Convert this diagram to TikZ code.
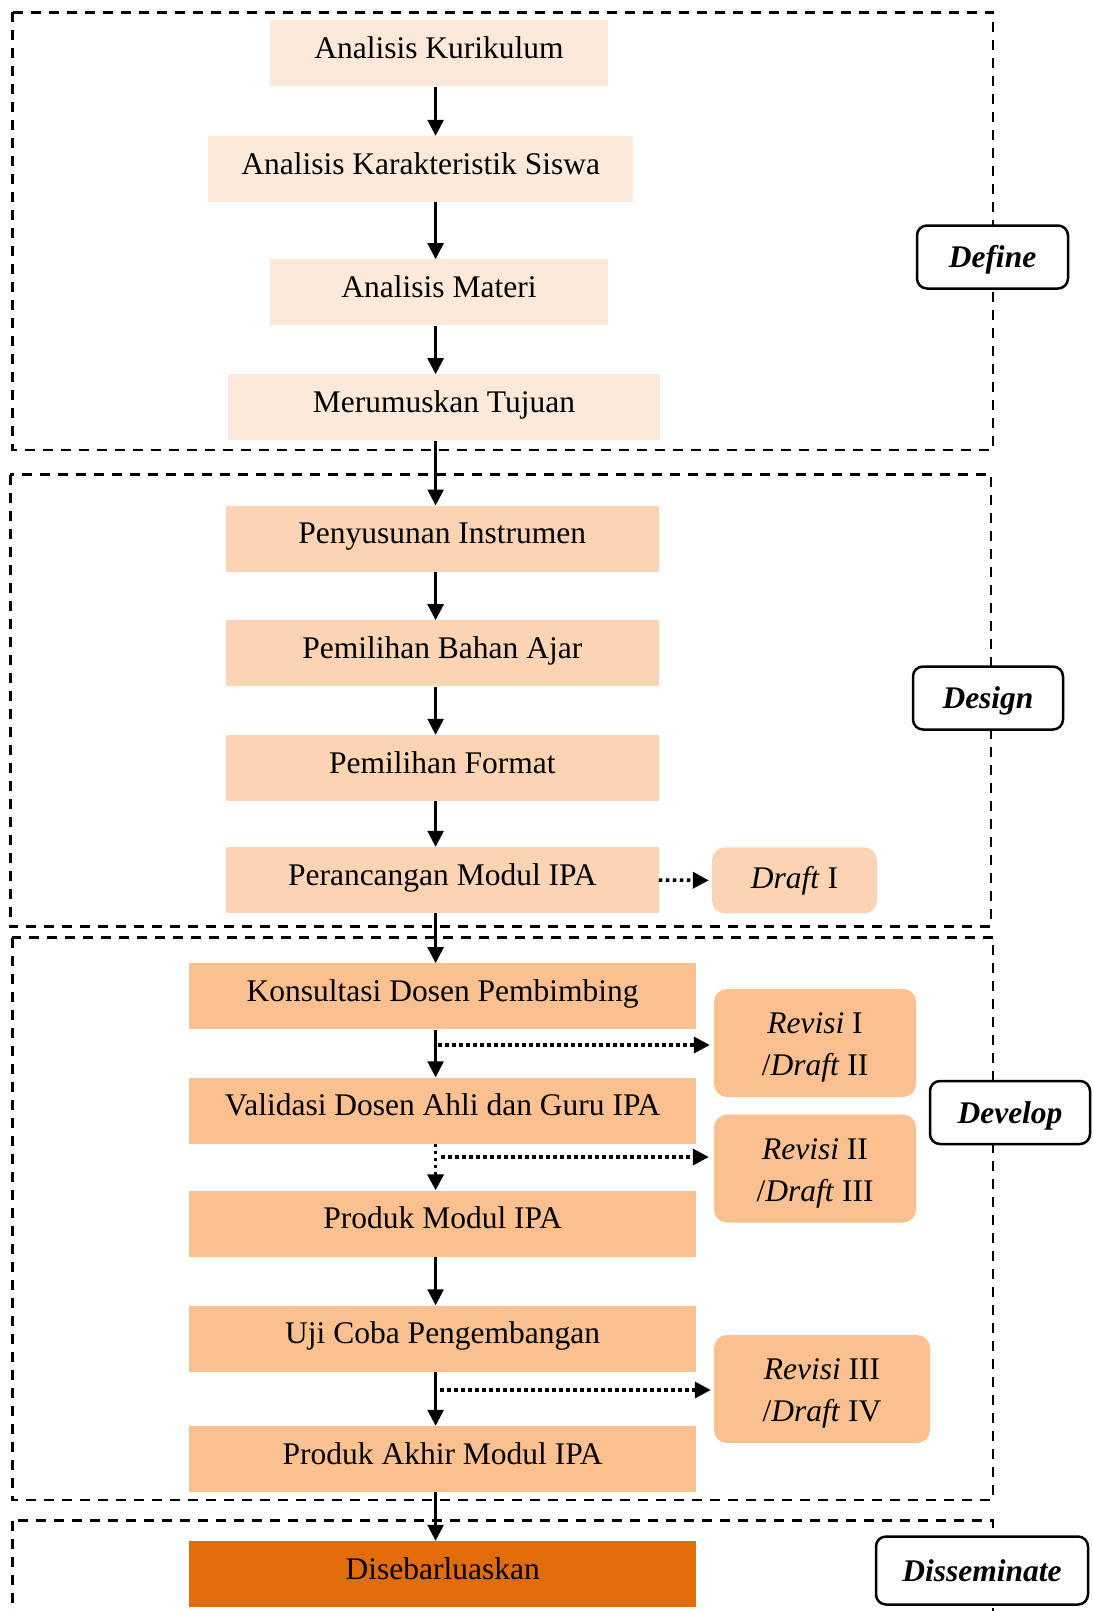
\documentclass[tikz,border=0pt]{standalone}
\usepackage{fontspec}
\setmainfont{Liberation Serif}
\usetikzlibrary{arrows.meta}
\definecolor{cdef}{HTML}{FDE9D9}
\definecolor{cdes}{HTML}{FBD4B4}
\definecolor{cdev}{HTML}{FAC090}
\definecolor{cdis}{HTML}{E36C0A}
\newcommand{\toprule}{\rule{0pt}{30pt}}
\begin{document}
\begin{tikzpicture}[x=1pt,y=-1pt,
    every node/.style={font=\fontsize{31.5}{42}\selectfont},
    box/.style={fill=#1, minimum height=66, inner sep=0pt, text height=22pt, text depth=12pt},
    revbox/.style={fill=#1, rounded corners=13pt, inner sep=0pt, align=center},
    phase/.style={draw, line width=2.5pt, rounded corners=10pt, fill=white, minimum height=63,
        inner sep=0pt, text height=22pt, text depth=1pt, font=\fontsize{31.5}{42}\selectfont\bfseries\itshape},
    frame/.style={line width=2.5pt, dash pattern=on 10pt off 8pt},
    flow/.style={-{Triangle[width=16pt,length=16pt]}, line width=2.6pt},
    dotflow/.style={flow, line width=3.5pt, dash pattern=on 3.5pt off 3.5pt}]
    \path[use as bounding box, clip] (0,0) rectangle (1092,1611);
    % phase frames
    \draw[frame] (12.3,12.3) rectangle (993,450);
    \draw[frame] (10.3,474.6) rectangle (991,926.6);
    \draw[frame] (12.3,937.5) rectangle (993,1500);
    \draw[frame] (12.3,1520.7) rectangle (993,1700);
    \node[phase, minimum width=151] (ldefine) at (992.5,257) {Define};
    \node[phase, minimum width=150] (ldesign) at (988,698) {Design};
    \node[phase, minimum width=160] (ldevelop) at (1010,1112.5) {Develop};
    \node[phase, minimum width=212, minimum height=68] (ldissem) at (982,1570.5) {Disseminate};
    % define
    \node[box=cdef, minimum width=338] (kurikulum) at (439,53.4) {Analisis Kurikulum};
    \node[box=cdef, minimum width=424.5] (siswa) at (420.7,169) {Analisis Karakteristik Siswa};
    \node[box=cdef, minimum width=338] (materi) at (439,292.3) {Analisis Materi};
    \node[box=cdef, minimum width=432.5] (tujuan) at (444,407.4) {Merumuskan Tujuan};
    % design
    \node[box=cdes, minimum width=432.5] (instrumen) at (442.3,538.7) {Penyusunan Instrumen};
    \node[box=cdes, minimum width=432.5] (bahan) at (442.3,653.3) {Pemilihan Bahan Ajar};
    \node[box=cdes, minimum width=432.5] (format) at (442.3,768) {Pemilihan Format};
    \node[box=cdes, minimum width=432.5] (rancang) at (442.3,880) {Perancangan Modul IPA};
    \node[revbox=cdes, minimum width=165, minimum height=66] (draft1) at (794.5,880.4) {\textit{Draft} I};
    % develop
    \node[box=cdev, minimum width=507.5] (konsul) at (442.7,996.3) {Konsultasi Dosen Pembimbing};
    \node[box=cdev, minimum width=507.5] (validasi) at (442.7,1110.5) {Validasi Dosen Ahli dan Guru IPA};
    \node[box=cdev, minimum width=507.5] (produk) at (442.7,1223.5) {Produk Modul IPA};
    \node[box=cdev, minimum width=507.5] (ujicoba) at (442.7,1338.5) {Uji Coba Pengembangan};
    \node[box=cdev, minimum width=507.5] (akhir) at (442.7,1459) {Produk Akhir Modul IPA};
    \node[revbox=cdev, minimum width=202, minimum height=108] (rev1) at (815,1043) {\toprule\textit{Revisi} I\\/\textit{Draft} II};
    \node[revbox=cdev, minimum width=202, minimum height=108] (rev2) at (815,1168.5) {\toprule\textit{Revisi} II\\/\textit{Draft} III};
    \node[revbox=cdev, minimum width=216, minimum height=108] (rev3) at (822,1389) {\toprule\textit{Revisi} III\\/\textit{Draft} IV};
    % disseminate
    \node[box=cdis, minimum width=507.5] (sebar) at (442.7,1574) {Disebarluaskan};
    % connectors
    \coordinate (ax) at (435.6,0);
    \draw[flow] (kurikulum.south -| ax) -- (siswa.north -| ax);
    \draw[flow] (siswa.south -| ax) -- (materi.north -| ax);
    \draw[flow] (materi.south -| ax) -- (tujuan.north -| ax);
    \draw[flow] (tujuan.south -| ax) -- (instrumen.north -| ax);
    \draw[flow] (instrumen.south -| ax) -- (bahan.north -| ax);
    \draw[flow] (bahan.south -| ax) -- (format.north -| ax);
    \draw[flow] (format.south -| ax) -- (rancang.north -| ax);
    \draw[flow] (rancang.south -| ax) -- (konsul.north -| ax);
    \draw[flow] (konsul.south -| ax) -- (validasi.north -| ax);
    \draw[dotflow] (validasi.south -| ax) -- (produk.north -| ax);
    \draw[flow] (produk.south -| ax) -- (ujicoba.north -| ax);
    \draw[flow] (ujicoba.south -| ax) -- (akhir.north -| ax);
    \draw[flow] (akhir.south -| ax) -- (sebar.north -| ax);
    % revisions
    \coordinate (b1) at (438,1045);
    \coordinate (b2) at (441,1157);
    \coordinate (b3) at (440,1390);
    \draw[dotflow, shorten >=3pt] (rancang.east) -- (draft1.west);
    \draw[dotflow, shorten >=4pt] (b1) -- (b1 -| rev1.west);
    \draw[dotflow, shorten >=5pt] (b2) -- (b2 -| rev2.west);
    \draw[dotflow, shorten >=3pt] (b3) -- (b3 -| rev3.west);
\end{tikzpicture}
\end{document}
